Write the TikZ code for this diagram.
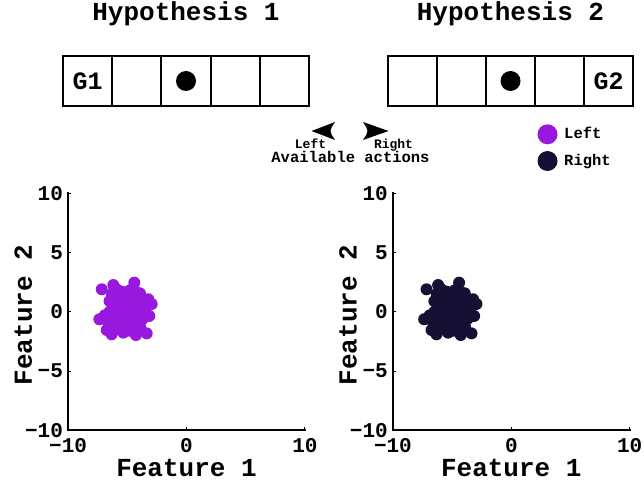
\documentclass[tikz,border=0pt]{standalone}
\usepackage{fontspec}
\setmonofont{Liberation Mono}
\definecolor{leftcol}{RGB}{152,24,221}
\definecolor{rightcol}{RGB}{22,17,52}
\newcommand{\clusterpoints}{-7.16/1.9, -6.18/2.26, -4.41/2.46, -2.94/0.66, -3.14/-0.35,
  -3.36/-1.82, -4.27/-1.96, -5.34/-1.76, -6.32/-1.9, -6.74/-1.54, -7.36/-0.63,
  -3.93/1.56, -3.23/1.06, -5.47/1.7, -5.8/1.2, -5.0/1.0, -4.5/1.3, -6.0/0.5,
  -5.3/0.4, -4.6/0.5, -3.9/0.4, -6.5/0.0, -5.8/-0.2, -5.1/-0.3, -4.4/-0.1,
  -3.7/-0.6, -6.6/-0.9, -6.0/-1.0, -5.3/-1.1, -4.6/-1.0, -3.9/-1.3, -5.7/-1.5,
  -4.9/-1.6, -4.5/-1.5, -6.3/1.5, -4.8/1.8, -4.2/0.9, -5.5/-0.6, -6.9/-0.3,
  -3.5/-0.1, -6.5/0.9, -5.5/0.8, -4.9/0.2, -4.1/-0.6, -5.9/-0.6, -6.2/-0.3,
  -4.3/1.7, -5.9/1.9, -3.6/0.8, -5.0/-1.2, -6.1/-1.5, -4.0/-1.0, -5.2/1.4,
  -6.2/0.9, -4.7/-0.5, -3.5/0.3}
\begin{document}
\begin{tikzpicture}[x=1pt,y=-1pt,
    title/.style={font=\ttfamily\bfseries\fontsize{26}{26}\selectfont},
    cell/.style={draw=black,line width=2pt,minimum width=49.2pt,minimum height=50pt,inner sep=0pt},
    goal/.style={font=\ttfamily\bfseries\fontsize{25}{25}\selectfont,inner sep=0pt},
    agent/.style={circle,fill=black,minimum size=20pt,inner sep=0pt},
    tiny/.style={font=\ttfamily\bfseries\fontsize{13}{13}\selectfont,inner sep=0pt},
    mid/.style={font=\ttfamily\bfseries\fontsize{15.5}{15.5}\selectfont,inner sep=0pt},
    ticklab/.style={font=\ttfamily\bfseries\fontsize{21}{21}\selectfont,inner sep=0pt},
    axlabel/.style={font=\ttfamily\bfseries\fontsize{26}{26}\selectfont,inner sep=0pt},
    axis/.style={line width=2pt,line cap=rect}]
  \useasboundingbox (0,0) rectangle (644,481);

  \node[title,anchor=base] (hyp1) at (186.0,21) {Hypothesis 1};
  \node[title,anchor=base] (hyp2) at (510.5,21) {Hypothesis 2};

  \foreach \i in {0,...,4} {
    \node[cell] (ha\i) at (87.6+49.2*\i,81) {};
    \node[cell] (hb\i) at (412.3+49.1*\i,81) {};
  }
  \node[goal]  (g1)     at (ha0) {G1};
  \node[goal]  (g2)     at (hb4) {G2};
  \node[agent] (agenta) at (ha2) {};
  \node[agent] (agentb) at (hb2) {};

  % available actions
  \fill (311.5,131) -- (335,122) .. controls (329,131) .. (335,140) -- cycle;
  \fill (388.5,131) -- (363,122) .. controls (369,131) .. (363,140) -- cycle;
  \node[tiny,anchor=base] (actl)  at (310.5,148.5) {Left};
  \node[tiny,anchor=base] (actr)  at (393.5,148.5) {Right};
  \node[mid,anchor=base]  (acts)  at (350.5,162)   {Available actions};

  % legend
  \node[circle,fill=leftcol,minimum size=20pt,inner sep=0pt]  (legl) at (547.5,134.3) {};
  \node[circle,fill=rightcol,minimum size=20pt,inner sep=0pt] (legr) at (547.5,161)   {};
  \node[mid,anchor=base west] (legltext) at (564,139)   {Left};
  \node[mid,anchor=base west] (legrtext) at (564,165.5) {Right};

  \foreach \ox/\col in {186.5/leftcol,511.3/rightcol} {
    \begin{scope}[shift={(\ox,311.8)},x=11.84pt,y=11.84pt]
      \foreach \fx/\fy in \clusterpoints
        \fill[\col] (\fx,\fy) circle (6pt);
      \draw[axis] (-10,10) -- (-10,-10) -- (10,-10);
      \foreach \t/\lab in {-10/−10,-5/−5,0/0,5/5,10/10} {
        \draw[line width=1pt] (-10,\t) -- ++(3pt,0);
        \node[ticklab,anchor=east]  at ([xshift=-5pt]-10,\t) {\lab};
      }
      \foreach \t/\lab in {-10/−10,0/0,10/10} {
        \draw[line width=1pt] (\t,-10) -- ++(0,3pt);
        \node[ticklab,anchor=north] at ([yshift=-8pt]\t,-10) {\lab};
      }
      \node[axlabel,anchor=base]          at (0,-13.87)     {Feature 1};
      \node[axlabel,anchor=base,rotate=90] at (-13.07,-0.27) {Feature 2};
    \end{scope}
  }
\end{tikzpicture}
\end{document}
